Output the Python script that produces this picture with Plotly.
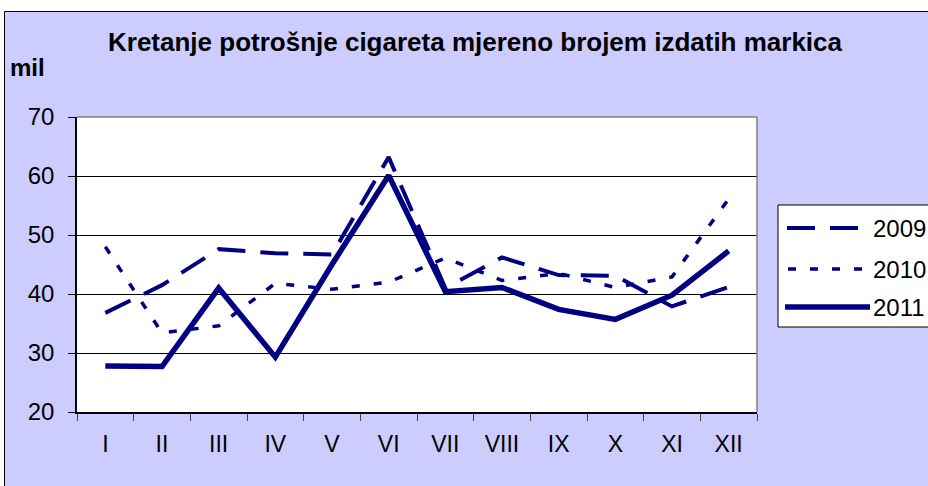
import plotly.graph_objects as go

months = ["I", "II", "III", "IV", "V", "VI", "VII", "VIII", "IX", "X", "XI", "XII"]
s2009 = [36.8, 41.5, 47.6, 46.9, 46.7, 63.2, 41.0, 46.2, 43.2, 43.1, 37.9, 41.2]
s2010 = [48.0, 33.4, 34.6, 41.8, 40.8, 42.0, 46.1, 42.3, 43.5, 41.1, 42.9, 56.1]
s2011 = [27.8, 27.7, 41.0, 29.3, 45.0, 60.1, 40.4, 41.1, 37.4, 35.7, 39.8, 47.3]
series_names = ["2009", "2010", "2011"]
y_ticks = [20, 30, 40, 50, 60, 70]

NAVY = "#000080"
LAV = "#CCCCFF"
FONT = "Liberation Sans, Arial, sans-serif"

W, H = 928, 486
L, R, T, B = 77, 757, 117, 412


def px(x):
    return (x - L) / (R - L)


def py(y):
    return (B - y) / (B - T)


styles = [
    dict(width=4, dash="28px,15px"),
    dict(width=3.5, dash="8px,14px"),
    dict(width=5.5, dash="solid"),
]

fig = go.Figure()
for name, vals, st in zip(series_names, [s2009, s2010, s2011], styles):
    fig.add_trace(go.Scatter(
        x=months, y=vals, mode="lines", name=name, showlegend=False,
        line=dict(color=NAVY, width=st["width"], dash=st["dash"]),
    ))

shapes = []
# outer white strips and black frame
shapes.append(dict(type="rect", xref="paper", yref="paper", x0=px(-10), x1=px(940),
                   y0=py(11), y1=py(-10), fillcolor="white", line=dict(width=0), layer="above"))
shapes.append(dict(type="rect", xref="paper", yref="paper", x0=px(-10), x1=px(4),
                   y0=py(500), y1=py(-10), fillcolor="white", line=dict(width=0), layer="above"))
shapes.append(dict(type="line", xref="paper", yref="paper", x0=px(4.5), x1=px(940),
                   y0=py(11.5), y1=py(11.5), line=dict(color="black", width=1), layer="above"))
shapes.append(dict(type="line", xref="paper", yref="paper", x0=px(4.5), x1=px(4.5),
                   y0=py(11.5), y1=py(500), line=dict(color="black", width=1), layer="above"))
# plot area top/right gray border
shapes.append(dict(type="line", xref="paper", yref="paper", x0=0, x1=1, y0=1, y1=1,
                   line=dict(color="#808080", width=1.5), layer="above"))
shapes.append(dict(type="line", xref="paper", yref="paper", x0=1, x1=1, y0=0, y1=1,
                   line=dict(color="#808080", width=1.5), layer="above"))

# manual legend
shapes.append(dict(type="rect", xref="paper", yref="paper", x0=px(778), x1=px(960),
                   y0=py(327), y1=py(205), fillcolor="white", line=dict(color="black", width=1),
                   layer="above"))
leg_y = [228, 269, 307]
leg_x = [(787, 860), (788, 868), (785, 870)]
annotations = []
for name, st, ly, (lx0, lx1) in zip(series_names, styles, leg_y, leg_x):
    shapes.append(dict(type="line", xref="paper", yref="paper", x0=px(lx0), x1=px(lx1),
                       y0=py(ly), y1=py(ly), layer="above",
                       line=dict(color=NAVY, width=st["width"], dash=st["dash"])))
    annotations.append(dict(xref="paper", yref="paper", x=px(871), y=py(ly), text=name,
                            showarrow=False, xanchor="left", yanchor="middle",
                            font=dict(family=FONT, size=24, color="black")))

annotations.append(dict(xref="paper", yref="paper", x=px(475), y=py(42),
                        text="<b>Kretanje potrošnje cigareta mjereno brojem izdatih markica</b>",
                        showarrow=False, xanchor="center", yanchor="middle",
                        font=dict(family=FONT, size=26, color="black")))
annotations.append(dict(xref="paper", yref="paper", x=px(8), y=py(68), text="<b>mil</b>",
                        showarrow=False, xanchor="left", yanchor="middle",
                        font=dict(family=FONT, size=24, color="black")))

fig.update_layout(
    width=W, height=H,
    margin=dict(l=L, r=W - R, t=T, b=H - B, pad=0),
    paper_bgcolor=LAV, plot_bgcolor="white",
    showlegend=False,
    shapes=shapes, annotations=annotations,
    font=dict(family=FONT, size=24, color="black"),
)
fig.update_xaxes(
    type="category", tickson="boundaries", ticks="outside", ticklen=7, tickcolor="#404040",
    showline=True, linecolor="black", linewidth=1.5, showgrid=False,
    tickfont=dict(family=FONT, size=23), ticklabelstandoff=11,
    range=[-0.5, 11.5],
)
fig.update_yaxes(
    range=[20, 70], tickvals=y_ticks, ticks="outside", ticklen=7, tickcolor="black",
    showline=True, linecolor="black", linewidth=1.5,
    showgrid=True, gridcolor="black", gridwidth=1, zeroline=False,
    tickfont=dict(family=FONT, size=24), ticklabelstandoff=9,
)

fig.write_html("out.html", config={"displayModeBar": False},
               post_script="document.body.style.margin='0px';")
